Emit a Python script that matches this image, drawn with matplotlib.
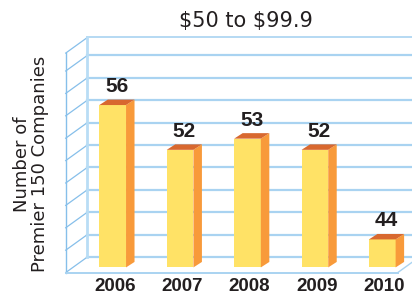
import numpy as np
import matplotlib
matplotlib.use('Agg')
from matplotlib import pyplot as plt
from matplotlib.patches import Polygon

years = ['2006', '2007', '2008', '2009', '2010']
counts = [56, 52, 53, 52, 44]
grid_levels = [42, 44, 46, 48, 50, 52, 54, 56, 58, 60]
wall_top = 61.6
base = 41.5

title = r'\$50 to \$99.9'
ylabel = 'Number of\nPremier 150 Companies'

# geometry of the fake 3D box (data units)
w = 0.396          # bar front width
sdx, sdy = 0.126, 0.49   # bar depth offset
back_dy = 0.44     # back wall shift above the bar front plane
xb = -0.374        # back wall left edge
ddx, ddy = -0.323, -1.40  # back -> front of the floor
x_right = 4.0 + 0.23

front_c = '#FFE266'
side_c = '#F89A3A'
top_c = '#D8682F'
grid_c = '#A9D3F1'
wall_c = '#86BFEA'
txt_c = '#231F20'

fig = plt.figure(figsize=(4.12, 2.98), dpi=100)
ax = fig.add_axes([0, 0, 1, 1])
ax.set_xlim(-1.672, 4.441)
ax.set_ylim(38.77, 65.38)
ax.axis('off')

# back wall grid
for g in grid_levels:
    y = g + back_dy
    ax.plot([xb, 4.6], [y, y], color=grid_c, lw=1.6, zorder=1)
    ax.plot([xb, xb + ddx], [y, y + ddy], color=wall_c, lw=0.9, zorder=1)
yt = wall_top + back_dy
ax.plot([xb, 4.6], [yt, yt], color=grid_c, lw=1.2, zorder=1)
ax.plot([xb, xb + ddx], [yt, yt + ddy], color=wall_c, lw=0.9, zorder=1)
ax.plot([xb, xb], [grid_levels[0] + back_dy, yt], color='#B9DDF5', lw=2.0, zorder=1)
ax.plot([xb + ddx, xb + ddx], [grid_levels[0] + back_dy + ddy, yt + ddy],
        color=wall_c, lw=1.0, zorder=1)
# floor front edge
yf = grid_levels[0] + back_dy + ddy
ax.plot([xb + ddx, x_right], [yf, yf], color=grid_c, lw=1.4, zorder=1)
ax.plot([x_right, x_right - ddx], [yf, yf - ddy], color=grid_c, lw=1.0, zorder=1)

for i, (yr, v) in enumerate(zip(years, counts)):
    x0, x1 = i - w / 2, i + w / 2
    ax.add_patch(Polygon([(x0, base), (x1, base), (x1, v), (x0, v)],
                         closed=True, fc=front_c, ec='none', zorder=3))
    ax.add_patch(Polygon([(x1, base), (x1 + sdx, base + sdy), (x1 + sdx, v + sdy), (x1, v)],
                         closed=True, fc=side_c, ec='none', zorder=3))
    ax.add_patch(Polygon([(x0, v), (x1, v), (x1 + sdx, v + sdy), (x0 + sdx, v + sdy)],
                         closed=True, fc=top_c, ec='none', zorder=3))
    ax.text(i + sdx / 2, v + sdy + 1.16, str(v), ha='center', va='center',
            fontsize=15, fontweight='bold', family='Liberation Sans', color=txt_c)
    ax.text(i + sdx / 4, 39.76, yr, ha='center', va='center',
            fontsize=13.5, fontweight='bold', family='Liberation Sans', color=txt_c)

fig.text(246 / 412, 1 - 21 / 298, title, ha='center', va='center',
         fontsize=15, family='DejaVu Sans', color=txt_c)
fig.text(31 / 412, 1 - 164 / 298, ylabel, ha='center', va='center', rotation=90,
         fontsize=13, family='DejaVu Sans', color=txt_c, linespacing=1.0)

fig.savefig('out.png', dpi=100)
